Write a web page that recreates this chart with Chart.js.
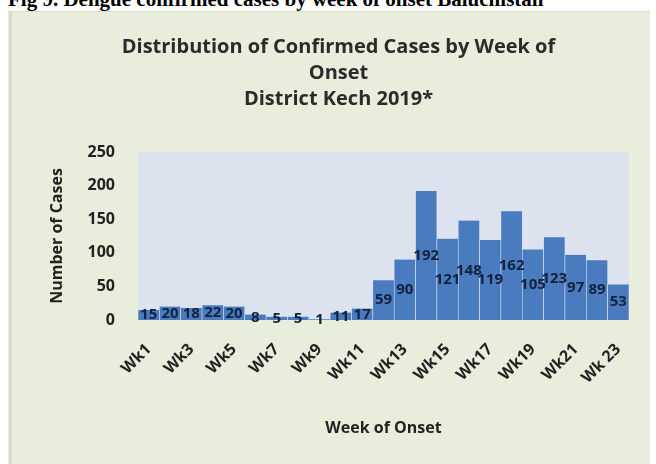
<!DOCTYPE html>
<html>
<head>
<meta charset="utf-8">
<script src="https://cdn.jsdelivr.net/npm/chart.js@4"></script>
<style>
  html, body { margin:0; padding:0; background:#ffffff; width:656px; height:464px; overflow:hidden; }
  #fig { position:absolute; left:8px; top:-11px; font-family:"Liberation Serif","DejaVu Serif",serif; font-weight:bold; font-size:21px; color:#000; white-space:nowrap; line-height:21px; }
  #box { position:absolute; left:8px; top:11px; width:642px; height:453px; background:#e8eedb; border-top:1px solid #d9dfcc; box-sizing:border-box; }
  #edge { position:absolute; left:9px; top:11px; width:3px; height:453px; background:#d6ddd0; }
  #c { position:absolute; left:0; top:0; }
</style>
</head>
<body>
<div id="fig">Fig 9. Dengue confirmed cases by week of onset Baluchistan</div>
<div id="box"><canvas id="c" width="642" height="452"></canvas></div>
<div id="edge"></div>
<script>
const weeks = ["Wk1","Wk2","Wk3","Wk4","Wk5","Wk6","Wk7","Wk8","Wk9","Wk10","Wk11","Wk12","Wk13","Wk14","Wk15","Wk16","Wk17","Wk18","Wk19","Wk20","Wk21","Wk22","Wk 23"];
const cases = [15,20,18,22,20,8,5,5,1,11,17,59,90,192,121,148,119,162,105,123,97,89,53];
const yTicks = [0,50,100,150,200,250];
const titleLines = ["Distribution of Confirmed Cases by Week of","Onset","District Kech 2019*"];

const FONT = "'Open Sans', 'DejaVu Sans', sans-serif";

const plotBg = {
  id: 'plotBg',
  beforeDatasetsDraw(chart) {
    const a = chart.chartArea, ctx = chart.ctx;
    ctx.save();
    ctx.fillStyle = '#dce3ef';
    ctx.fillRect(a.left, a.top, a.right - a.left, a.bottom - a.top);
    ctx.restore();
  }
};

const centerLabels = {
  id: 'centerLabels',
  afterDatasetsDraw(chart) {
    const ctx = chart.ctx;
    const meta = chart.getDatasetMeta(0);
    const data = chart.data.datasets[0].data;
    ctx.save();
    ctx.font = "bold 15px " + FONT;
    ctx.fillStyle = '#14233d';
    ctx.textAlign = 'center';
    ctx.textBaseline = 'middle';
    meta.data.forEach((el, i) => {
      ctx.fillText(String(data[i]), el.x, (el.y + el.base) / 2);
    });
    ctx.restore();
  }
};

new Chart(document.getElementById('c'), {
  type: 'bar',
  data: {
    labels: weeks,
    datasets: [{
      data: cases,
      backgroundColor: '#4a7bbf',
      borderColor: '#e4e9f2',
      borderWidth: {left:0.6, right:0.6, top:0, bottom:0},
      barPercentage: 1,
      categoryPercentage: 1
    }]
  },
  options: {
    responsive: false,
    animation: false,
    layout: { padding: { left: 40, right: 21, top: 0, bottom: 24 } },
    plugins: {
      legend: { display: false },
      tooltip: { enabled: false },
      title: {
        display: true,
        text: titleLines,
        color: '#2b2b2b',
        font: { family: FONT, size: 20, weight: 'bold', lineHeight: 1.3 },
        padding: { top: 22, bottom: 40 }
      }
    },
    scales: {
      x: {
        grid: { display: false, drawTicks: false },
        border: { display: false },
        ticks: {
          autoSkip: false,
          maxRotation: 45, minRotation: 45,
          padding: 20,
          color: '#222',
          font: { family: FONT, size: 16, weight: 'bold' },
          callback: function(v, i) { return i % 2 === 0 ? this.getLabelForValue(v) : ''; }
        },
        title: { display: true, text: 'Week of Onset', color: '#222', font: { family: FONT, size: 16, weight: 'bold' }, padding: { top: 0, bottom: 2 } },
        afterFit(s) { s.height = 120; s.paddingLeft = 0; s.paddingRight = 0; }
      },
      y: {
        min: 0, max: 250,
        afterBuildTicks(s) { s.ticks = yTicks.map(v => ({ value: v })); },
        grid: { display: false, drawTicks: false },
        border: { display: false },
        ticks: { color: '#222', padding: 23, font: { family: FONT, size: 16, weight: 'bold' } },
        title: { display: true, text: 'Number of Cases', color: '#222', font: { family: FONT, size: 16, weight: 'bold' }, padding: { top: 0, bottom: 0 } },
        afterFit(s) { s.width = 90; }
      }
    }
  },
  plugins: [plotBg, centerLabels]
});
</script>
</body>
</html>
